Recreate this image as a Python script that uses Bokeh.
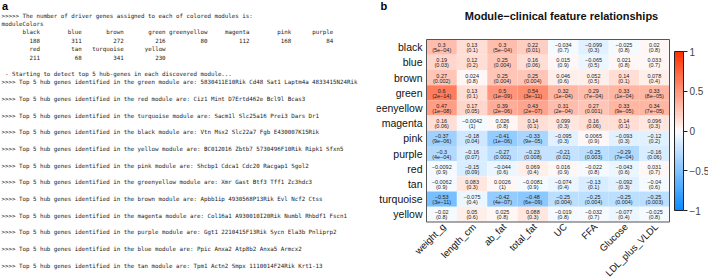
import math
from bokeh.plotting import figure
from bokeh.layouts import row
from bokeh.models import (ColumnDataSource, Range1d, ColorBar,
                          LinearColorMapper, FixedTicker, CustomJSTickFormatter)
from bokeh.core.properties import value
from bokeh.embed import file_html
from bokeh.resources import INLINE

# ---------------- panel a data ----------------
count_modules = ["black", "blue", "brown", "green", "greenyellow", "magenta", "pink",
                 "purple", "red", "tan", "turquoise", "yellow"]
driver_counts = [188, 311, 272, 216, 80, 112, 168, 84, 211, 68, 341, 230]

hub_modules = ["green", "red", "turquoise", "black", "yellow", "pink", "greenyellow",
               "brown", "magenta", "purple", "blue", "tan"]
hub_genes = [
    "5830411E10Rik Cd48 Sat1 Laptm4a 4833415N24Rik",
    "Ciz1 Mint D7Ertd462e Bcl9l Bcas3",
    "Sacm1l Slc25a16 Prei3 Dars Dr1",
    "Vtn Msx2 Slc22a7 Fgb E430007K15Rik",
    "BC012016 Zbtb7 5730496F10Rik Ripk1 Sfxn5",
    "Shcbp1 Cdca1 Cdc20 Racgap1 Sgol2",
    "Xmr Gast Btf3 Tff1 Zc3hdc3",
    "Apbb1ip 4930568P13Rik Evl Ncf2 Ctss",
    "Col16a1 A930010I20Rik Numbl Rhbdf1 Fscn1",
    "Ggt1 2210415F13Rik Sycn Ela3b Pnliprp2",
    "Ppic Anxa2 Atp8b2 Anxa5 Armcx2",
    "Tpm1 Actn2 Smpx 1110014F24Rik Krt1-13",
]

# ---------------- panel b data ----------------
features = ["weight_g", "length_cm", "ab_fat", "total_fat", "UC", "FFA", "Glucose", "LDL_plus_VLDL"]
modules = ["black", "blue", "brown", "green", "greenyellow", "magenta", "pink", "purple",
           "red", "tan", "turquoise", "yellow"]

cor_black = [0.3, 0.13, 0.3, 0.22, -0.034, -0.099, -0.025, 0.02]
p_black = ["5e-04", "0.1", "5e-04", "0.01", "0.7", "0.3", "0.8", "0.8"]
cor_blue = [0.19, 0.12, 0.25, 0.16, 0.015, -0.065, 0.021, 0.033]
p_blue = ["0.03", "0.2", "0.004", "0.06", "0.9", "0.5", "0.8", "0.7"]
cor_brown = [0.27, 0.024, 0.25, 0.25, 0.046, 0.052, 0.14, 0.078]
p_brown = ["0.002", "0.8", "0.004", "0.004", "0.6", "0.5", "0.1", "0.4"]
cor_green = [0.6, 0.13, 0.5, 0.54, 0.32, 0.29, 0.33, 0.33]
p_green = ["2e-14", "0.1", "1e-09", "3e-11", "1e-04", "7e-04", "1e-04", "8e-05"]
cor_greenyellow = [0.47, 0.17, 0.39, 0.43, 0.31, 0.27, 0.33, 0.34]
p_greenyellow = ["1e-08", "0.05", "2e-06", "2e-07", "2e-04", "0.001", "9e-05", "7e-05"]
cor_magenta = [0.16, -0.0042, 0.026, 0.14, 0.099, 0.16, 0.14, 0.096]
p_magenta = ["0.06", "1", "0.8", "0.1", "0.3", "0.06", "0.1", "0.3"]
cor_pink = [-0.37, -0.18, -0.41, -0.33, -0.095, 0.0065, -0.093, -0.12]
p_pink = ["9e-06", "0.04", "1e-06", "9e-05", "0.3", "0.9", "0.3", "0.2"]
cor_purple = [-0.3, -0.16, -0.27, -0.23, -0.21, -0.25, -0.29, -0.16]
p_purple = ["4e-04", "0.07", "0.002", "0.008", "0.02", "0.003", "7e-04", "0.06"]
cor_red = [-0.0092, -0.15, -0.044, 0.069, 0.016, -0.022, -0.043, 0.031]
p_red = ["0.9", "0.09", "0.6", "0.4", "0.9", "0.8", "0.6", "0.7"]
cor_tan = [-0.0062, 0.083, 0.0026, -0.0081, -0.074, -0.13, -0.092, -0.04]
p_tan = ["0.9", "0.3", "1", "0.9", "0.4", "0.1", "0.3", "0.6"]
cor_turquoise = [-0.53, -0.075, -0.42, -0.48, -0.25, -0.25, -0.25, -0.25]
p_turquoise = ["3e-11", "0.4", "4e-07", "6e-09", "0.004", "0.004", "0.004", "0.003"]
cor_yellow = [-0.02, 0.05, 0.025, 0.088, -0.019, -0.032, -0.077, -0.025]
p_yellow = ["0.8", "0.6", "0.8", "0.3", "0.8", "0.7", "0.4", "0.8"]

cor_rows = [cor_black, cor_blue, cor_brown, cor_green, cor_greenyellow, cor_magenta,
            cor_pink, cor_purple, cor_red, cor_tan, cor_turquoise, cor_yellow]
p_rows = [p_black, p_blue, p_brown, p_green, p_greenyellow, p_magenta,
          p_pink, p_purple, p_red, p_tan, p_turquoise, p_yellow]

MINUS = "\u2212"


# ---------------- palette (WGCNA blueWhiteRed style) ----------------
def blue_white_red(n):
    blue = (13, 140, 255)
    red = (255, 51, 0)
    white = (255, 255, 255)
    half = n // 2
    out = []
    for k in range(half):
        t = (half - k) / half
        out.append(tuple(round(w + (b - w) * t) for w, b in zip(white, blue)))
    for k in range(n - half):
        t = (k + 1) / (n - half)
        out.append(tuple(round(w + (r - w) * t) for w, r in zip(white, red)))
    return ["#%02x%02x%02x" % c for c in out]


palette = blue_white_red(50)

# ---------------- layout constants (pixels) ----------------
W, H = 708, 279
PA_W = 376
PB_W = W - PA_W
HM_LEFT, HM_RIGHT = 426, 669       # heatmap edges in page pixels
HM_TOP, HM_BOTTOM = 39, 221.5

# ---------------- panel a figure (pixel-unit data space) ----------------
pa = figure(width=PA_W, height=H, x_range=Range1d(0, PA_W), y_range=Range1d(H, 0),
            toolbar_location=None, output_backend="svg", min_border=0,
            x_axis_location=None, y_axis_location=None)
pa.grid.visible = False
pa.outline_line_color = None

MONO = value("DejaVu Sans Mono")
MONO_SIZE = 5.8
ADV = 0.602 * MONO_SIZE          # character advance of the monospace font
LINE_H = 8.33
Y0 = 15.3
X0 = 1.0


def line_y(k):
    return Y0 + k * LINE_H


plain_lines = []   # (line index, text)
plain_lines.append((0, ">>>>> The number of driver genes assigned to each of colored modules is:"))
plain_lines.append((1, "moduleColors"))
plain_lines.append((7, "- Starting to detect top 5 hub-genes in each discovered module..."))
for i, (m, g) in enumerate(zip(hub_modules, hub_genes)):
    plain_lines.append((8 + 2 * i, ">>>> Top 5 hub genes identified in the %s module are: %s" % (m, g)))

src_a = ColumnDataSource(dict(
    x=[X0 + (ADV if t.startswith("- ") else 0) for _, t in plain_lines],
    y=[line_y(k) for k, _ in plain_lines],
    t=[t for _, t in plain_lines]))
pa.text(x="x", y="y", text="t", source=src_a, text_font=MONO,
        text_font_size="%.1fpx" % MONO_SIZE, text_baseline="middle", text_align="left",
        text_color="#1a1a1a")

# named-vector print: right-aligned columns, 8 per line
col_w = max(len(m) for m in count_modules)
vx, vy, vt = [], [], []
for idx, (m, c) in enumerate(zip(count_modules, driver_counts)):
    blk, col = divmod(idx, 8)
    xr = X0 + (col * (col_w + 1) + col_w) * ADV
    vx += [xr, xr]
    vy += [line_y(2 + 2 * blk), line_y(3 + 2 * blk)]
    vt += [m, str(c)]
pa.text(x=vx, y=vy, text=vt, text_font=MONO, text_font_size="%.1fpx" % MONO_SIZE,
        text_baseline="middle", text_align="right", text_color="#1a1a1a")

pa.text(x=[1.5], y=[5.5], text=["a"], text_font=value("Liberation Sans"),
        text_font_style="bold", text_font_size="11px", text_baseline="middle",
        text_align="left", text_color="#000000")

# ---------------- panel b figure (cell-unit data space) ----------------
n_cols, n_rows = len(features), len(modules)
ux = (HM_RIGHT - HM_LEFT) / n_cols      # px per column
uy = (HM_BOTTOM - HM_TOP) / n_rows      # px per row
xr_b = Range1d(-(HM_LEFT - PA_W) / ux, n_cols + (W - HM_RIGHT) / ux)
yr_b = Range1d(-(H - HM_BOTTOM) / uy, n_rows + HM_TOP / uy)

pb = figure(width=PB_W, height=H, x_range=xr_b, y_range=yr_b,
            toolbar_location=None, output_backend="svg", min_border=0,
            x_axis_location=None, y_axis_location=None)
pb.grid.visible = False
pb.outline_line_color = None

cx, cy, cors, vtxt, ptxt = [], [], [], [], []
for i, (m, crow, prow) in enumerate(zip(modules, cor_rows, p_rows)):
    for j, (f, c, p) in enumerate(zip(features, crow, prow)):
        cx.append(j + 0.5)
        cy.append(n_rows - i - 0.5)
        cors.append(c)
        vtxt.append(str(c).replace("-", MINUS))
        ptxt.append("(" + p.replace("-", MINUS) + ")")

mapper = LinearColorMapper(palette=palette, low=-1, high=1)
src_b = ColumnDataSource(dict(x=cx, y=cy, cor=cors, v=vtxt, p=ptxt))
pb.rect(x="x", y="y", width=1, height=1, source=src_b,
        fill_color={"field": "cor", "transform": mapper}, line_color=None)
# heatmap box
pb.rect(x=[n_cols / 2], y=[n_rows / 2], width=n_cols, height=n_rows,
        fill_color=None, line_color="#555555", line_width=1)

CELL_FONT = "5.5px"
pb.text(x="x", y="y", text="v", source=src_b, text_font=value("Liberation Sans"),
        text_font_size=CELL_FONT, text_align="center", text_baseline="bottom",
        text_color="#222222")
pb.text(x="x", y="y", text="p", source=src_b, text_font=value("Liberation Sans"),
        text_font_size=CELL_FONT, text_align="center", text_baseline="top",
        text_color="#222222")

# row labels
pb.text(x=[-4 / ux] * n_rows, y=[n_rows - i - 0.5 for i in range(n_rows)], text=modules,
        text_font=value("Liberation Sans"), text_font_size="10.5px", text_align="right",
        text_baseline="middle", text_color="#111111")
# column labels (rotated 45 degrees)
pb.text(x=[j + 0.5 + 2 / ux for j in range(n_cols)], y=[-3 / uy] * n_cols, text=features,
        angle=math.pi / 4, text_font=value("Liberation Sans"), text_font_size="9.6px",
        text_align="right", text_baseline="middle", text_color="#111111")
# title and panel letter
pb.text(x=[(561 - HM_LEFT) / ux], y=[n_rows + (HM_TOP - 15.7) / uy],
        text=["Module" + MINUS + "clinical feature relationships"],
        text_font=value("Liberation Sans"), text_font_style="bold", text_font_size="11px",
        text_align="center", text_baseline="middle", text_color="#111111")
pb.text(x=[(380 - HM_LEFT) / ux], y=[n_rows + (HM_TOP - 5.5) / uy], text=["b"],
        text_font=value("Liberation Sans"), text_font_style="bold", text_font_size="11px",
        text_align="left", text_baseline="middle", text_color="#000000")

cb = ColorBar(color_mapper=mapper, ticker=FixedTicker(ticks=[-1, -0.5, 0, 0.5, 1]),
              formatter=CustomJSTickFormatter(
                  code="return tick < 0 ? '\u2212' + Math.abs(tick) : String(tick);"),
              width=9, height=159, location=(674 - PA_W, H - 210), margin=0, padding=0,
              bar_line_color="#222222", major_tick_out=4, major_tick_in=0,
              major_tick_line_color="#222222", minor_tick_line_color=None,
              label_standoff=2, major_label_text_font="Liberation Sans",
              major_label_text_font_size="10px", background_fill_alpha=0,
              border_line_color=None)
pb.add_layout(cb, "center")

layout = row(pa, pb)
open("out.html", "w").write(file_html(layout, INLINE))
